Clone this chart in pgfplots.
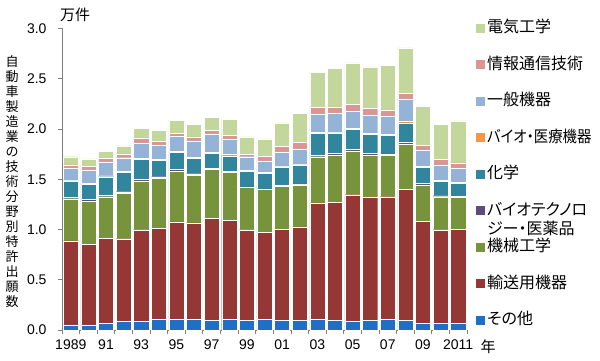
\documentclass[border=0pt]{standalone}
\usepackage{fontspec}
\setmainfont{Liberation Sans}
\newfontfamily\jp[RawFeature=+palt]{Noto Sans CJK JP}
\usepackage{graphicx}
\usepackage{pgfplots}
\usepackage{pgfplotstable}
\pgfplotsset{compat=1.18}
\definecolor{cOther}{HTML}{1F6FC5}
\definecolor{cTrans}{HTML}{953735}
\definecolor{cMech}{HTML}{77933C}
\definecolor{cBiotech}{HTML}{604A7B}
\definecolor{cChem}{HTML}{31859C}
\definecolor{cBiomed}{HTML}{F79646}
\definecolor{cGen}{HTML}{95B3D7}
\definecolor{cIct}{HTML}{D99694}
\definecolor{cElec}{HTML}{C3D69B}
\definecolor{axgray}{HTML}{808080}
\pgfplotstableread{
idx other trans mech biotech chem biomed gen ict elec
0 0.050 0.838 0.418 0.016 0.163 0.010 0.119 0.030 0.080
1 0.050 0.802 0.431 0.016 0.149 0.010 0.136 0.037 0.073
2 0.066 0.849 0.411 0.016 0.183 0.010 0.135 0.037 0.073
3 0.083 0.825 0.451 0.017 0.192 0.010 0.136 0.039 0.080
4 0.083 0.915 0.487 0.016 0.199 0.010 0.153 0.049 0.097
5 0.103 0.908 0.497 0.017 0.162 0.010 0.139 0.040 0.113
6 0.103 0.974 0.504 0.017 0.172 0.013 0.143 0.033 0.129
7 0.103 0.964 0.471 0.017 0.155 0.010 0.163 0.039 0.123
8 0.096 1.014 0.488 0.010 0.149 0.016 0.173 0.043 0.129
9 0.103 0.991 0.474 0.013 0.153 0.013 0.156 0.033 0.159
10 0.099 0.899 0.421 0.006 0.153 0.013 0.133 0.023 0.175
11 0.109 0.862 0.428 0.006 0.156 0.010 0.113 0.046 0.173
12 0.093 0.911 0.425 0.010 0.185 0.010 0.139 0.057 0.232
13 0.093 0.934 0.418 0.010 0.189 0.010 0.146 0.066 0.288
14 0.106 1.160 0.458 0.016 0.216 0.013 0.175 0.070 0.351
15 0.093 1.180 0.470 0.017 0.202 0.010 0.186 0.063 0.381
16 0.089 1.257 0.437 0.017 0.195 0.014 0.165 0.073 0.411
17 0.093 1.229 0.421 0.017 0.186 0.010 0.182 0.069 0.411
18 0.103 1.223 0.414 0.013 0.183 0.013 0.182 0.060 0.441
19 0.099 1.300 0.454 0.020 0.189 0.020 0.212 0.059 0.454
20 0.066 1.018 0.361 0.013 0.159 0.014 0.159 0.050 0.391
21 0.063 0.935 0.328 0.010 0.146 0.013 0.149 0.053 0.351
22 0.063 0.938 0.318 0.010 0.133 0.013 0.139 0.050 0.418
}\data
\begin{document}
\begin{tikzpicture}[x=1bp,y=1bp]
\useasboundingbox (0,0) rectangle (600,360);
\begin{axis}[
  at={(62bp,30bp)}, anchor=south west,
  scale only axis, width=405bp, height=301.5bp,
  ybar stacked, bar width=0.86, bar shift=0pt,
  xmin=-0.5, xmax=22.5, ymin=0, ymax=3,
  axis lines*=left,
  axis line style={axgray, line width=0.8bp},
  every tick/.style={axgray, line width=0.8bp},
  tick align=outside,
  xtick={0,2,...,22},
  xticklabels={1989,91,93,95,97,99,01,03,05,07,09,2011},
  major x tick style={draw=none},
  minor xtick={-0.5,0.5,...,22.5},
  minor tick length=4bp,
  ytick={0,0.5,...,3},
  major tick length=4bp,
  yticklabel={\pgfmathprintnumber[fixed,fixed zerofill,precision=1]{\tick}},
  /pgf/number format/assume math mode=true,
  ticklabel style={font=\fontsize{14bp}{16bp}\selectfont, text=black},
  yticklabel style={xshift=-8bp},
  xticklabel style={yshift=-2bp},
  reverse legend,
  legend cell align=left,
  legend style={at={(1.022,1.027)}, anchor=north west, draw=none, fill=none,
    font=\jp\fontsize{16bp}{19bp}\selectfont, row sep=21.5bp, inner sep=0pt,
    nodes={inner ysep=0pt, inner xsep=2bp, text height=12bp, text depth=3bp}},
  legend image code/.code={\fill[#1,draw=none] (0bp,-4.5bp) rectangle (9bp,4.5bp);},
  every axis plot/.append style={draw=white, line width=0.4bp},
]
\addplot[fill=cOther] table[x=idx,y=other] {\data};
\addlegendentry{その他}
\addplot[fill=cTrans] table[x=idx,y=trans] {\data};
\addlegendentry{輸送用機器}
\addplot[fill=cMech] table[x=idx,y=mech] {\data};
\addlegendentry{機械工学}
\addplot[fill=cBiotech] table[x=idx,y=biotech] {\data};
\addlegendentry{\begin{tabular}[t]{@{}l@{}}バイオテクノロ\\ジー・医薬品\end{tabular}}
\addplot[fill=cChem] table[x=idx,y=chem] {\data};
\addlegendentry{化学}
\addplot[fill=cBiomed] table[x=idx,y=biomed] {\data};
\addlegendentry{\scalebox{0.9}[1]{バイオ・医療機器}}
\addplot[fill=cGen] table[x=idx,y=gen] {\data};
\addlegendentry{一般機器}
\addplot[fill=cIct] table[x=idx,y=ict] {\data};
\addlegendentry{情報通信技術}
\addplot[fill=cElec] table[x=idx,y=elec] {\data};
\addlegendentry{電気工学}
\end{axis}
\node[font=\jp\fontsize{15bp}{17bp}\selectfont, anchor=center] at (75,345) {万件};
\node[font=\jp\fontsize{15bp}{17bp}\selectfont, anchor=center] at (488,13) {年};
\node[font=\jp\fontsize{13bp}{15bp}\selectfont, align=center, anchor=center, inner sep=0pt] at (12,178)
  {自\\動\\車\\製\\造\\業\\の\\技\\術\\分\\野\\別\\特\\許\\出\\願\\数};
\end{tikzpicture}
\end{document}
